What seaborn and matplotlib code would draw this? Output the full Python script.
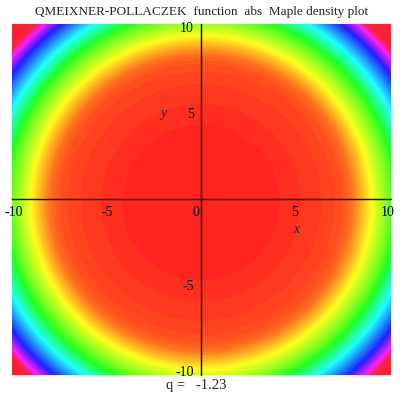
import numpy as np
import pandas as pd
import matplotlib
matplotlib.use("Agg")
import matplotlib.pyplot as plt
import seaborn as sns
from matplotlib.colors import ListedColormap
from matplotlib.ticker import MultipleLocator
from matplotlib.transforms import ScaledTranslation

radius = [0.0, 4.3, 5.4, 6.5, 7.5, 8.1, 8.8, 9.68, 10.12, 10.46, 11.3, 12.3, 12.85, 13.15, 13.3]
hue = [0.0, 0.0079, 0.0157, 0.0236, 0.035, 0.06, 0.13, 0.23, 0.28, 0.33, 0.5, 0.67, 0.83, 0.97, 1.0]
centre = (0.0, -0.2)
y_squash = 0.94

x_ticks = [-10, -5, 0, 5, 10]
y_ticks = [-10, -5, 5, 10]
title = "QMEIXNER-POLLACZEK  function  abs  Maple density plot"
caption = "q =   -1.23"

sns.set_theme(style="white")
plt.rcParams["font.family"] = ["Liberation Serif", "DejaVu Serif"]

xlim = (-10.12, 10.17)
ylim = (-10.23, 10.17)
xs = np.linspace(xlim[0], xlim[1], 380)
ys = np.linspace(ylim[1], ylim[0], 350)
X, Y = np.meshgrid(xs, ys)
R = np.hypot(X - centre[0], y_squash * (Y - centre[1]))
field = pd.DataFrame(np.interp(R, radius, hue), index=ys.round(3), columns=xs.round(3))

# Maple HUE colouring, banded, a little washed out
n_bands = 128
base = plt.get_cmap("hsv")((np.arange(n_bands) + 0.5) / n_bands)
base[:, :3] = base[:, :3] * 0.88 + 0.12
cmap = ListedColormap(base)

fig = plt.figure(figsize=(4, 4), dpi=100)
rect = [12 / 400, 1 - 375 / 400, 379 / 400, 351 / 400]
ax = fig.add_axes(rect)
sns.heatmap(field, ax=ax, cmap=cmap, vmin=0, vmax=1, cbar=False,
            xticklabels=False, yticklabels=False)
ax.set_axis_off()

# axes crossing at the origin, Maple style
ax2 = fig.add_axes(rect, facecolor="none")
ax2.set_xlim(xlim)
ax2.set_ylim(ylim)
for side in ["top", "right"]:
    ax2.spines[side].set_visible(False)
ax2.spines["left"].set_position(("data", 0))
ax2.spines["bottom"].set_position(("data", 0))
for side in ["left", "bottom"]:
    ax2.spines[side].set_color("black")
    ax2.spines[side].set_linewidth(1.0)
ax2.set_xticks(x_ticks)
ax2.set_yticks(y_ticks)
ax2.set_xticklabels([str(t) for t in x_ticks])
ax2.set_yticklabels([str(t) for t in y_ticks])
ax2.xaxis.set_minor_locator(MultipleLocator(1))
ax2.yaxis.set_minor_locator(MultipleLocator(1))
ax2.tick_params(which="both", direction="out", color="black", width=0.8,
                labelsize=10, labelcolor="black", pad=1)
ax2.tick_params(which="major", length=4)
ax2.tick_params(which="minor", length=3)
for lab in ax2.get_xticklabels():
    if lab.get_text() == "0":
        lab.set_transform(lab.get_transform() + ScaledTranslation(-0.05, 0, fig.dpi_scale_trans))

ax2.text(5.1, -1.8, "x", style="italic", fontsize=10, ha="center", va="center")
ax2.text(-2.0, 4.95, "y", style="italic", fontsize=10, ha="center", va="center")

fig.text(0.505, 1 - 12 / 400, title, ha="center", va="center", fontsize=9.5)
fig.text(0.49, 1 - 386 / 400, caption, ha="center", va="center", fontsize=10.5)

fig.savefig("out.png", dpi=100)
